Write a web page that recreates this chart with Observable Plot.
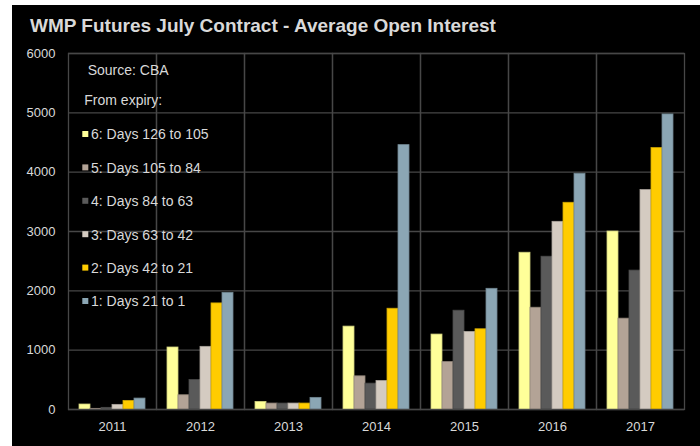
<!DOCTYPE html>
<html>
<head>
<meta charset="utf-8">
<script src="https://cdn.jsdelivr.net/npm/d3@7"></script>
<script src="https://cdn.jsdelivr.net/npm/@observablehq/plot@0.6"></script>
<style>
  html, body { margin: 0; padding: 0; background: #fff; }
  #wrap { position: absolute; left: 12px; top: 5px; width: 688px; height: 441px; background: #000; }
</style>
</head>
<body>
<div id="wrap"></div>
<script>
const years = ["2011", "2012", "2013", "2014", "2015", "2016", "2017"];
const seriesNames = ["6: Days 126 to 105", "5: Days 105 to 84", "4: Days 84 to 63", "3: Days 63 to 42", "2: Days 42 to 21", "1: Days 21 to 1"];
const seriesColors = ["#FFFF99", "#B3A396", "#5A5A5A", "#D4CBC1", "#FFCC00", "#8BA6B4"];
const days126to105 = [84, 1045, 128, 1397, 1263, 2642, 3000];
const days105to84 = [11, 240, 100, 559, 799, 1715, 1531];
const days84to63 = [28, 497, 100, 436, 1665, 2575, 2341];
const days63to42 = [78, 1056, 100, 480, 1307, 3163, 3698];
const days42to21 = [145, 1788, 100, 1698, 1352, 3484, 4406];
const days21to1 = [184, 1966, 196, 4456, 2034, 3973, 4973];
const yTicks = [0, 1000, 2000, 3000, 4000, 5000, 6000];
const titleText = "WMP Futures July Contract - Average Open Interest";
const sourceText = "Source: CBA";
const legendTitle = "From expiry:";

const seriesValues = [days126to105, days105to84, days84to63, days63to42, days42to21, days21to1];
const data = [];
seriesNames.forEach((s, i) => years.forEach((y, j) => data.push({year: y, series: s, value: seriesValues[i][j]})));

const barMarks = seriesNames.map((s, i) => Plot.barY(data.filter(d => d.series === s), {
  fx: "year", x: "series", y: "value",
  fill: seriesColors[i],
  stroke: d3.color(seriesColors[i]).darker(0.6).formatHex(),
  strokeWidth: 0.8,
  insetLeft: 0, insetRight: 0
}));

const grid = "#474747";
const chart = Plot.plot({
  width: 688, height: 441,
  marginLeft: 56, marginTop: 48, marginRight: 16, marginBottom: 37,
  style: {background: "#000", color: "#d9d9d9", fontFamily: "'Liberation Sans', Arial, sans-serif", fontSize: "13px"},
  fx: {domain: years, padding: 0, label: null, axis: null},
  x: {domain: seriesNames, paddingInner: 0, paddingOuter: 0.76, axis: null},
  y: {domain: [0, 6000], axis: null},
  marks: [
    Plot.gridY(yTicks, {stroke: grid, strokeOpacity: 1, strokeWidth: 1.3}),
    ...barMarks,
    Plot.frame({stroke: grid, strokeWidth: 1.3}),
    Plot.axisY(yTicks, {anchor: "left", tickSize: 0, tickPadding: 13, tickFormat: d => String(d), label: null, fontSize: 13}),
    Plot.axisFx({anchor: "bottom", tickSize: 0, tickPadding: 12, label: null, fontSize: 13})
  ]
});

document.getElementById("wrap").appendChild(chart);

const svg = d3.select(chart);
svg.append("text").attr("x", 18).attr("y", 27).attr("text-anchor", "start")
  .attr("fill", "#d9d9d9").attr("font-size", 19).attr("font-weight", "bold")
  .attr("font-family", "'Liberation Sans', Arial, sans-serif")
  .text(titleText);

const lg = svg.append("g").attr("text-anchor", "start").attr("font-family", "'Liberation Sans', Arial, sans-serif").attr("font-size", 14).attr("fill", "#d9d9d9");
lg.append("text").attr("x", 75.7).attr("y", 70).text(sourceText);
lg.append("text").attr("x", 72.3).attr("y", 100).text(legendTitle);
seriesNames.forEach((s, i) => {
  const yb = 134.3 + i * 33.4;
  lg.append("rect").attr("x", 70.3).attr("y", yb - 8.3).attr("width", 6).attr("height", 6).attr("fill", seriesColors[i]);
  lg.append("text").attr("x", 79).attr("y", yb).text(s);
});
</script>
</body>
</html>
